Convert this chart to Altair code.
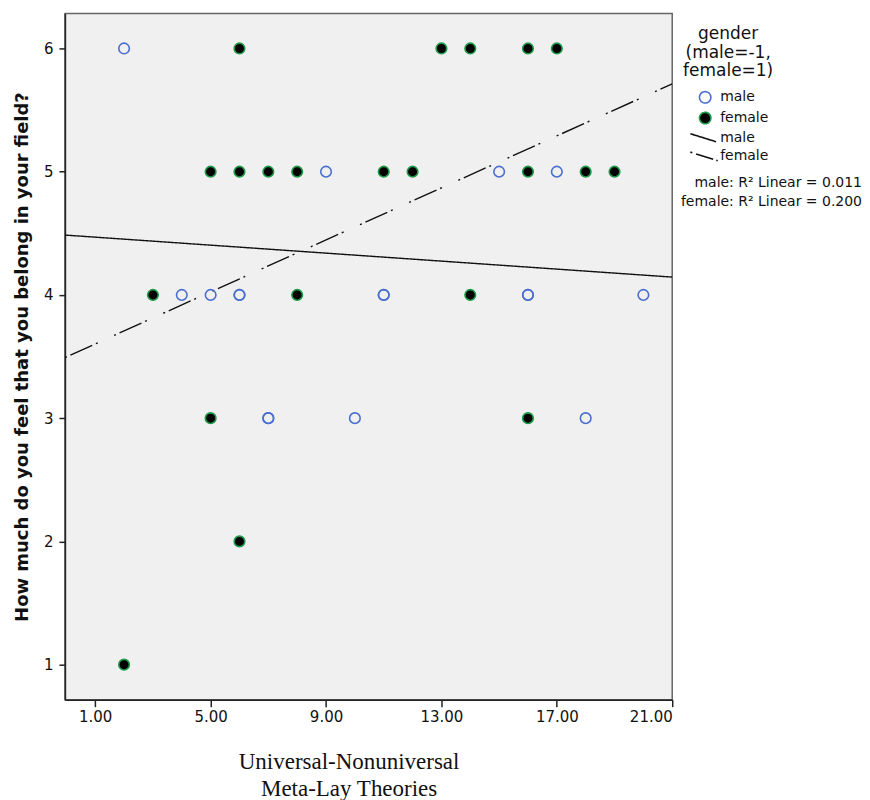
import altair as alt
import pandas as pd

# ---- data ----
male_x = [2, 9, 15, 17, 4, 5, 6, 6, 11, 11, 16, 16, 20, 7, 7, 10, 18]
male_y = [6, 5, 5, 5, 4, 4, 4, 4, 4, 4, 4, 4, 4, 3, 3, 3, 3]
female_x = [6, 13, 14, 16, 17, 5, 6, 7, 8, 11, 12, 16, 18, 19, 3, 8, 14, 5, 16, 6, 2]
female_y = [6, 6, 6, 6, 6, 5, 5, 5, 5, 5, 5, 5, 5, 5, 4, 4, 4, 3, 3, 2, 1]

fit_groups = ["male", "female"]
fit_intercepts = [4.485, 3.497]
fit_slopes = [-0.0162, 0.1055]
r2_values = [0.011, 0.200]

x_ticks = [1, 5, 9, 13, 17, 21]
y_ticks = [1, 2, 3, 4, 5, 6]
x_domain = [-0.05, 21]
y_domain = [0.716, 6.284]

keys = ["pt_male", "pt_female", "fit_male", "fit_female"]

pts = pd.DataFrame({
    "x": male_x + female_x,
    "y": male_y + female_y,
    "key": ["pt_male"] * len(male_x) + ["pt_female"] * len(female_x),
})

fit_rows = []
for g, a, b in zip(fit_groups, fit_intercepts, fit_slopes):
    for xv in x_domain:
        fit_rows.append({"x": xv, "y": a + b * xv, "key": "fit_" + g})
fits = pd.DataFrame(fit_rows)

r2_text = "\n".join(f"{g}: R² Linear = {v:.3f}" for g, v in zip(fit_groups, r2_values))
r2 = pd.DataFrame({"t": [r2_text]})

W, H = 608, 687

male_path = "M-2.6,-0.7L1.9,0.7"
female_path = "M-2.6,-0.75L1.4,0.5M1.95,0.67L2.2,0.75"

legend = alt.Legend(
    title=["gender", "(male=-1,", "female=1)"],
    orient="none", legendX=619, legendY=13,
    titleAnchor="middle", titleAlign="center",
    titleFont="DejaVu Sans", titleFontSize=17, titleFontWeight="normal",
    titleLineHeight=18.5, titleColor="#111", titlePadding=10,
    labelFont="DejaVu Sans", labelFontSize=14, labelColor="#111",
    labelExpr="split(datum.label, '_')[1]",
    symbolSize=130, symbolStrokeWidth=1.6, symbolOffset=10, labelOffset=8,
    rowPadding=2.7, padding=0,
)

xs = alt.X("x:Q", scale=alt.Scale(domain=x_domain, nice=False, zero=False),
           axis=alt.Axis(values=x_ticks, format=".2f",
                         title=["Universal-Nonuniversal", "Meta-Lay Theories"],
                         titleFont="Liberation Serif", titleFontSize=23,
                         titleFontWeight="normal", titleLineHeight=26.5,
                         titlePadding=26, titleX=284, titleAlign="center",
                         tickSize=7, labelPadding=3))
ys = alt.Y("y:Q", scale=alt.Scale(domain=y_domain, nice=False, zero=False),
           axis=alt.Axis(values=y_ticks, format="d",
                         title="How much do you feel that you belong in your field?",
                         titleFont="DejaVu Sans", titleFontSize=18,
                         titleFontWeight="bold", titlePadding=12,
                         tickSize=6, labelPadding=6))

stroke_scale = alt.Scale(domain=keys, range=["#4a6fcf", "#1e9a48", "#111111", "#111111"])

points = alt.Chart(pts).mark_point(filled=True, opacity=1, strokeWidth=1.6, size=112).encode(
    x=xs, y=ys,
    stroke=alt.Stroke("key:N", scale=stroke_scale, legend=legend),
    fill=alt.Fill("key:N", scale=alt.Scale(domain=keys, range=["transparent", "#000000", "transparent", "transparent"]), legend=legend),
    shape=alt.Shape("key:N", scale=alt.Scale(domain=keys, range=["circle", "circle", male_path, female_path]), legend=legend),
)

lines = alt.Chart(fits).mark_line(strokeWidth=1.4, clip=True).encode(
    x="x:Q", y="y:Q",
    stroke=alt.Stroke("key:N", scale=stroke_scale, legend=legend),
    strokeDash=alt.StrokeDash("key:N", scale=alt.Scale(domain=keys, range=[[1, 0], [1, 0], [1, 0], [2, 4, 24, 4, 2, 18]]), legend=None),
)

r2_layer = alt.Chart(r2).mark_text(
    align="right", baseline="middle", font="DejaVu Sans", fontSize=14,
    lineBreak="\n", lineHeight=19, color="#111"
).encode(x=alt.value(798), y=alt.value(170), text="t:N")

chart = alt.layer(lines, points, r2_layer).properties(
    width=W, height=H,
    padding={"left": 5, "top": 5, "right": 0, "bottom": 0},
).configure_view(
    fill="#f0f0f0", stroke="#666666", strokeWidth=1.5
).configure_axis(
    grid=False, labelFont="DejaVu Sans", labelFontSize=15, labelColor="#111",
    titleColor="#111", domainColor="#222", domainWidth=1.5,
    tickColor="#222", tickWidth=1.5,
)

chart.save("out.html", embed_options={"renderer": "svg", "actions": False})
